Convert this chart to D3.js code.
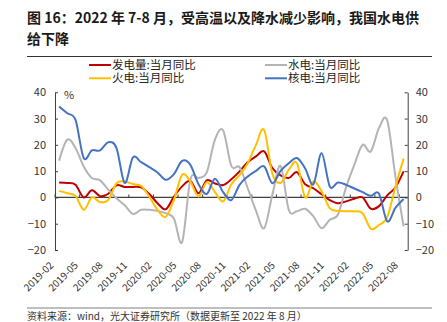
<!DOCTYPE html>
<html><head><meta charset="utf-8">
<script src="https://cdn.jsdelivr.net/npm/d3@7"></script>
<style>
body{margin:0;background:#fff}
svg{display:block;font-family:"Noto Sans CJK SC","Noto Sans",sans-serif}
</style></head>
<body><svg id="c" width="447" height="322"></svg>
<script>
const months = ["2019-02","2019-03","2019-04","2019-05","2019-06","2019-07","2019-08","2019-09","2019-10","2019-11","2019-12",
"2020-01","2020-02","2020-03","2020-04","2020-05","2020-06","2020-07","2020-08","2020-09","2020-10","2020-11","2020-12",
"2021-01","2021-02","2021-03","2021-04","2021-05","2021-06","2021-07","2021-08","2021-09","2021-10","2021-11","2021-12",
"2022-01","2022-02","2022-03","2022-04","2022-05","2022-06","2022-07","2022-08"];
const tickLabels = ["2019-02","2019-05","2019-08","2019-11","2020-02","2020-05","2020-08","2020-11","2021-02","2021-05","2021-08","2021-11","2022-02","2022-05","2022-08"];
const yTicks = [-20,-10,0,10,20,30,40];
const generation = [5.7,5.5,4.8,0.0,2.7,0.5,1.4,4.6,4.0,4.0,3.8,1.3,-2.2,-4.5,0.3,4.2,6.3,1.6,6.5,5.3,4.7,6.9,9.9,13.4,15.6,17.5,11.2,8.4,7.4,9.6,5.0,3.5,1.2,-1.0,-2.2,-1.5,-0.5,0.0,-4.3,-3.3,0.8,3.8,9.9];
const hydro = [14,22,18.8,11.8,7.4,6.5,2.9,-0.3,-3.0,-6.3,-4.7,-4.7,-5.1,-6.0,-8.0,-17.0,6.7,7.4,9.5,22.0,25.5,12.0,11.5,3.5,-5.0,-11.7,1.0,12.0,-4.7,-5.3,-4.3,-7.2,-11.7,-8.5,-6.5,4.0,12.5,20.0,17.5,26.4,29.3,8.0,-11.0];
const thermal = [2.5,1.6,0.6,-4.7,0.0,-1.8,-0.9,5.4,6.1,5.1,4.4,0.3,-4.7,-7.4,-0.9,8.6,6.1,0.4,5.8,2.0,-1.5,5.0,8.5,13.0,20.0,25.7,9.0,5.5,10.5,13.0,0.0,6.1,2.3,-4.1,-5.1,-5.3,-5.3,-6.0,-11.9,-10.5,-7.5,4.0,14.8];
const nuclear = [34.6,32.0,29.5,15.0,17.9,17.9,21.0,18.8,5.5,15.2,13.4,11.5,9.5,6.7,8.9,13.9,12.4,5.0,1.3,7.1,2.0,-1.0,4.8,8.0,10.1,11.8,5.4,10.1,13.0,15.0,11.0,5.0,16.8,4.2,5.7,4.8,3.4,2.0,0.6,1.4,-9.1,-4.0,-0.6];
const seriesNames = ["发电量:当月同比","水电:当月同比","火电:当月同比","核电:当月同比"];
const seriesColors = ["#C00000","#B4B4B4","#FFC000","#4472C4"];
const seriesData = [generation, hydro, thermal, nuclear];

const svg = d3.select("#c");
svg.append("rect").attr("width",447).attr("height",322).attr("fill","#fff");

// title
const title = svg.append("text").attr("x",27).attr("font-size",14).attr("font-weight",700).attr("fill","#1a1a1a");
title.append("tspan").attr("x",27).attr("y",23).text("图 16：2022 年 7-8 月，受高温以及降水减少影响，我国水电供");
title.append("tspan").attr("x",27).attr("y",44).text("给下降");
svg.append("line").attr("x1",27).attr("x2",432).attr("y1",56.5).attr("y2",56.5).attr("stroke","#333").attr("stroke-width",1);

const L = 55, R = 407.7, T = 92.3, B = 250;
const x = d3.scaleBand().domain(months).range([L, R]);
const bw = x.bandwidth();
const y = d3.scaleLinear().domain([-20, 40]).range([B, T]);

// axes
const axL = svg.append("g").attr("transform",`translate(${L},0)`)
  .call(d3.axisLeft(y).tickValues(yTicks).tickSizeInner(-3).tickSizeOuter(0).tickPadding(9));
const axR = svg.append("g").attr("transform",`translate(${R},0)`)
  .call(d3.axisRight(y).tickValues(yTicks).tickSizeInner(-3).tickSizeOuter(0).tickPadding(8));
[axL, axR].forEach(g => {
  g.select(".domain").attr("stroke","#404040").attr("stroke-width",1);
  g.selectAll(".tick line").attr("stroke","#404040");
  g.selectAll(".tick text").attr("font-size",11).attr("fill","#333").attr("font-family","'Noto Sans CJK SC',sans-serif");
});
svg.append("text").attr("x",64).attr("y",99).attr("font-size",11).attr("fill","#333").text("%");

// zero line with ticks
svg.append("line").attr("x1",L).attr("x2",R).attr("y1",y(0)).attr("y2",y(0)).attr("stroke","#404040").attr("stroke-width",1.3);
svg.append("g").selectAll("line").data(tickLabels).join("line")
  .attr("x1",d=>x(d)).attr("x2",d=>x(d)).attr("y1",y(0)-3).attr("y2",y(0))
  .attr("stroke","#404040").attr("stroke-width",1);

// x labels
svg.append("g").selectAll("text").data(tickLabels).join("text")
  .attr("transform",d=>`translate(${x(d)+bw/2-5},${266}) rotate(-45)`)
  .attr("text-anchor","end").attr("font-size",10).attr("fill","#333").text(d=>d);

// lines
const line = d3.line().x((d,i)=>x(months[i])+bw/2).y(d=>y(d)).curve(d3.curveCardinal.tension(0));
const plot = svg.append("g");
seriesData.forEach((s,k)=>{
  plot.append("path").datum(s).attr("d",line).attr("fill","none")
    .attr("stroke",seriesColors[k]).attr("stroke-width",2).attr("stroke-linejoin","round");
});

// legend
const legPos = [[89,65],[265,65],[89,78.3],[265,78.3]];
seriesNames.forEach((n,k)=>{
  const [lx,ly] = legPos[k];
  svg.append("line").attr("x1",lx).attr("x2",lx+22).attr("y1",ly).attr("y2",ly).attr("stroke",seriesColors[k]).attr("stroke-width",2);
  svg.append("text").attr("x",lx+23).attr("y",ly).attr("dy","0.36em").attr("font-size",11.5).attr("fill","#222").text(n);
});

// footer
svg.append("line").attr("x1",27).attr("x2",432).attr("y1",308).attr("y2",308).attr("stroke","#808080").attr("stroke-width",1.2);
svg.append("text").attr("x",27).attr("y",320).attr("font-size",10).attr("fill","#333").text("资料来源：wind，光大证券研究所（数据更新至 2022 年 8 月）");
</script></body></html>
